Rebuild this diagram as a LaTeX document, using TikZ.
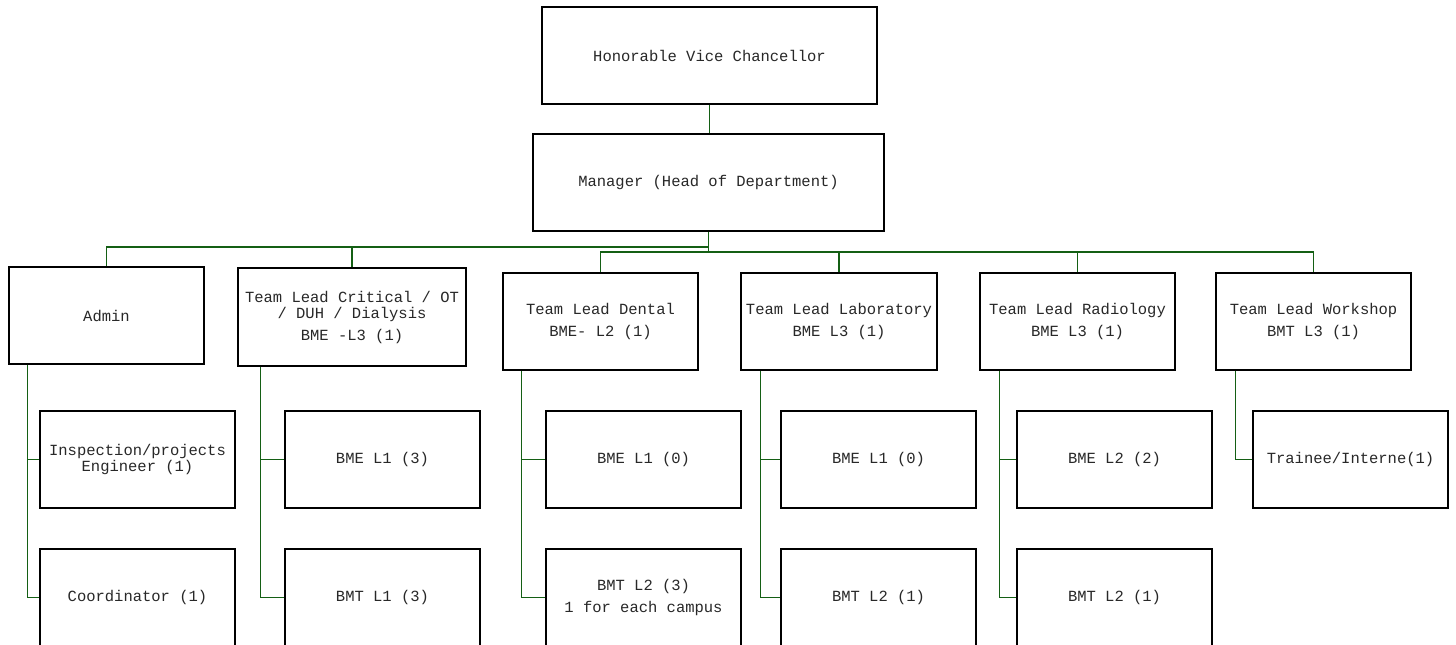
\documentclass[tikz,border=0pt]{standalone}
\usepackage{fontspec}
\setmainfont{Liberation Mono}
\definecolor{linkgreen}{RGB}{20,95,20}
\definecolor{txt}{RGB}{40,40,40}
\begin{document}
\begin{tikzpicture}[x=1pt,y=-1pt,
  box/.style={draw=black,line width=1.5pt,fill=white,inner sep=0pt,align=center,
    text=txt,font=\fontsize{15.5}{16}\selectfont,minimum width=195pt,minimum height=97pt},
  link/.style={draw=linkgreen,line width=1.4pt}]
\clip (0,0) rectangle (1456,645);
\fill[white] (0,0) rectangle (1456,645);
% top
\node[box,minimum width=335pt] (vc) at (709.5,55.5) {Honorable Vice Chancellor};
\node[box,minimum width=351pt] (mgr) at (708.5,182.5) {Manager (Head of Department)};
% second level
\node[box] (admin) at (106.5,315.5) {Admin};
\node[box,minimum width=228pt,minimum height=98pt] (crit) at (352,317) {Team Lead Critical / OT\\/ DUH / Dialysis\\[6pt]BME -L3 (1)};
\node[box] (dent) at (600.5,321.5) {Team Lead Dental\\[6pt]BME- L2 (1)};
\node[box,minimum width=196pt] (lab) at (839,321.5) {Team Lead Laboratory\\[6pt]BME L3 (1)};
\node[box] (rad) at (1077.5,321.5) {Team Lead Radiology\\[6pt]BME L3 (1)};
\node[box] (work) at (1313.5,321.5) {Team Lead Workshop\\[6pt]BMT L3 (1)};
% third level
\node[box] (a1) at (137.5,459.5) {Inspection/projects\\Engineer (1)};
\node[box] (a2) at (137.5,597.5) {Coordinator (1)};
\node[box] (c1) at (382.5,459.5) {BME L1 (3)};
\node[box] (c2) at (382.5,597.5) {BMT L1 (3)};
\node[box] (d1) at (643.5,459.5) {BME L1 (0)};
\node[box] (d2) at (643.5,597.5) {BMT L2 (3)\\[6pt]1 for each campus};
\node[box] (l1) at (878.5,459.5) {BME L1 (0)};
\node[box] (l2) at (878.5,597.5) {BMT L2 (1)};
\node[box] (r1) at (1114.5,459.5) {BME L2 (2)};
\node[box] (r2) at (1114.5,597.5) {BMT L2 (1)};
\node[box] (w1) at (1350.5,459.5) {Trainee/Interne(1)};
% connectors
\draw[link] (vc.south) -- (vc.south |- mgr.north);
\coordinate (busA) at (0,247);
\coordinate (busB) at (0,252);
\draw[link] (mgr.south) -- (mgr.south |- busA) -| (admin.north);
\draw[link] (mgr.south) -- (mgr.south |- busA) -| (crit.north);
\draw[link] (mgr.south) -- (mgr.south |- busB) -| (dent.north);
\draw[link] (mgr.south) -- (mgr.south |- busB) -| (lab.north);
\draw[link] (mgr.south) -- (mgr.south |- busB) -| (rad.north);
\draw[link] (mgr.south) -- (mgr.south |- busB) -| (work.north);
\draw[link] ([xshift=19pt]admin.south west) |- (a1.west);
\draw[link] ([xshift=19pt]admin.south west) |- (a2.west);
\draw[link] ([xshift=23pt]crit.south west) |- (c1.west);
\draw[link] ([xshift=23pt]crit.south west) |- (c2.west);
\draw[link] ([xshift=19pt]dent.south west) |- (d1.west);
\draw[link] ([xshift=19pt]dent.south west) |- (d2.west);
\draw[link] ([xshift=20pt]lab.south west) |- (l1.west);
\draw[link] ([xshift=20pt]lab.south west) |- (l2.west);
\draw[link] ([xshift=20pt]rad.south west) |- (r1.west);
\draw[link] ([xshift=20pt]rad.south west) |- (r2.west);
\draw[link] ([xshift=20pt]work.south west) |- (w1.west);
\end{tikzpicture}
\end{document}
